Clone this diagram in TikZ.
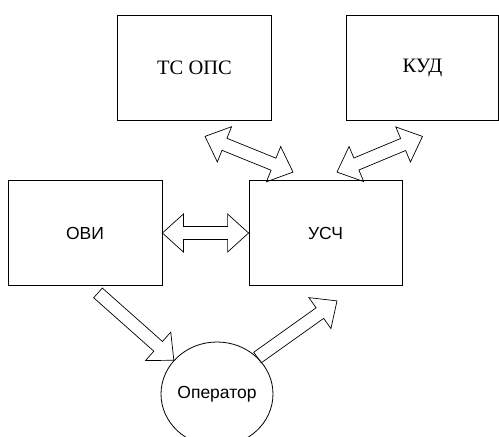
\documentclass[tikz,border=0pt]{standalone}
\usepackage{fontspec}
\setmainfont{Liberation Serif}
\newfontfamily\arialfont{Liberation Sans}
\usetikzlibrary{calc,shapes.geometric}

% sizes of the hollow arrows
\def\headlen{21pt}
\def\headwd{19pt}
\def\shaftwd{6.5pt}

\tikzset{
  block/.style={draw, line width=0.8pt, minimum width=154pt, minimum height=105pt, inner sep=0pt},
  serif/.style={font=\fontsize{20.5}{24}\selectfont},
  sans/.style={font=\arialfont\fontsize{17.5}{21}\selectfont},
  % outline arrow with a head at both ends
  twoway/.style={draw, line width=0.7pt, line join=miter, to path={
      -- ($(\tikztostart)!\headlen!(\tikztotarget)!\headwd!90:(\tikztotarget)$)
      -- ($(\tikztostart)!\headlen!(\tikztotarget)!\shaftwd!90:(\tikztotarget)$)
      -- ($(\tikztotarget)!\headlen!(\tikztostart)!\shaftwd!-90:(\tikztostart)$)
      -- ($(\tikztotarget)!\headlen!(\tikztostart)!\headwd!-90:(\tikztostart)$)
      -- (\tikztotarget)
      -- ($(\tikztotarget)!\headlen!(\tikztostart)!\headwd!90:(\tikztostart)$)
      -- ($(\tikztotarget)!\headlen!(\tikztostart)!\shaftwd!90:(\tikztostart)$)
      -- ($(\tikztostart)!\headlen!(\tikztotarget)!\shaftwd!-90:(\tikztotarget)$)
      -- ($(\tikztostart)!\headlen!(\tikztotarget)!\headwd!-90:(\tikztotarget)$)
      -- cycle}},
  % outline arrow with one head
  oneway/.style={draw, line width=0.7pt, line join=miter, to path={
      -- ($(\tikztostart)!\shaftwd!90:(\tikztotarget)$)
      -- ($(\tikztotarget)!\headlen!(\tikztostart)!\shaftwd!-90:(\tikztostart)$)
      -- ($(\tikztotarget)!\headlen!(\tikztostart)!\headwd!-90:(\tikztostart)$)
      -- (\tikztotarget)
      -- ($(\tikztotarget)!\headlen!(\tikztostart)!\headwd!90:(\tikztostart)$)
      -- ($(\tikztotarget)!\headlen!(\tikztostart)!\shaftwd!90:(\tikztostart)$)
      -- ($(\tikztostart)!\shaftwd!-90:(\tikztotarget)$)
      -- cycle}}
}

\begin{document}
\begin{tikzpicture}[x=1pt, y=-1pt]
  \useasboundingbox (0,0) rectangle (499,437);

  % blocks
  \node[block, serif] (tsops) at (194.5,67.5) {ТС ОПС};
  \node[block, serif, minimum width=152pt] (kud) at (422.5,67.5) {КУД};
  \node[block, sans] (ovi) at (85,233) {ОВИ};
  \node[block, sans, minimum width=153pt] (usch) at (325.5,233) {УСЧ};
  \node[draw, line width=0.8pt, ellipse, minimum width=109pt, minimum height=104pt,
        inner sep=0pt, sans] (operator) at (217,394) {Оператор};

  % free ends of the arrows
  \coordinate (tsops-end) at ($(tsops.south)+(10.5,16)$);
  \coordinate (usch-left) at ($(usch.north)+(-32.5,-8)$);
  \coordinate (kud-end) at ($(kud.south)+(0,16)$);
  \coordinate (usch-right) at ($(usch.north)+(11.5,-8)$);
  \coordinate (ovi-end) at ($(ovi.south)+(13,7)$);
  \coordinate (usch-in) at ($(usch.south)+(11.5,15)$);

  % links
  \draw[twoway] (ovi.east) to (usch.west);
  \draw[twoway] (tsops-end) to (usch-left);
  \draw[twoway] (usch-right) to (kud-end);
  \draw[oneway] (ovi-end) to (operator.142);
  \draw[oneway] (operator.42) to (usch-in);
\end{tikzpicture}
\end{document}
